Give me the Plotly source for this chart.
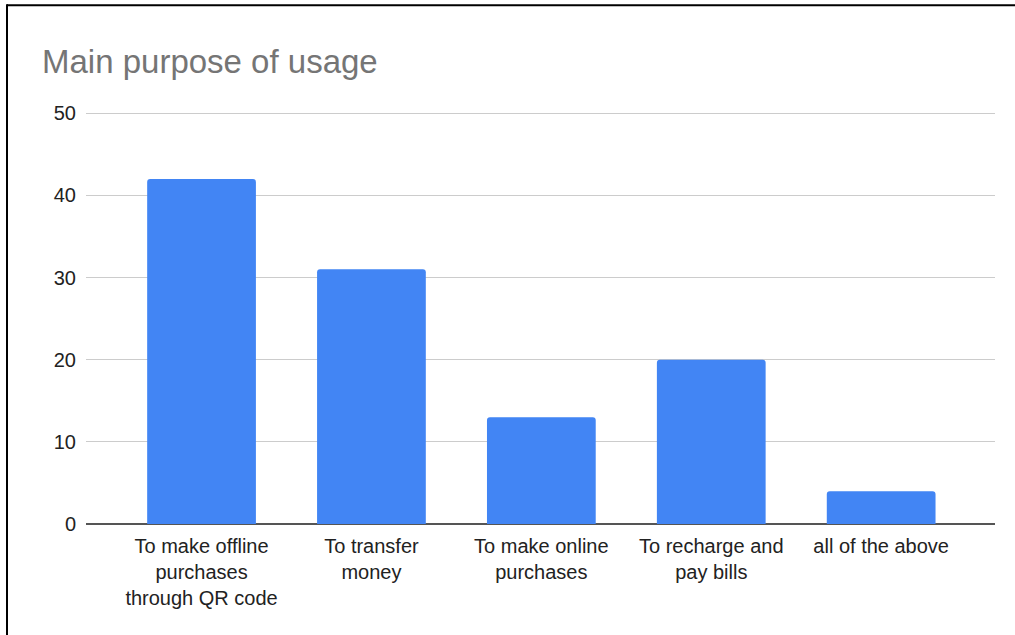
import plotly.graph_objects as go

# Survey responses: main purpose of usage
categories = [
    "To make offline<br>purchases<br>through QR code",
    "To transfer<br>money",
    "To make online<br>purchases",
    "To recharge and<br>pay bills",
    "all of the above",
]
counts = [42, 31, 13, 20, 4]
y_ticks = [0, 10, 20, 30, 40, 50]

W, H = 1015, 635
L, R, T, B = 86, 20, 113, 111
pw, ph = W - L - R, H - T - B


def px_x(x):
    return (x - L) / pw


def px_y(y):
    return (H - B - y) / ph


fig = go.Figure(
    go.Bar(
        x=categories,
        y=counts,
        width=0.64,
        marker=dict(color="#4285F4", cornerradius=3, line=dict(width=0)),
        hoverinfo="x+y",
    )
)

font_family = "Arial, Liberation Sans, sans-serif"

fig.update_layout(
    width=W,
    height=H,
    margin=dict(l=L, r=R, t=T - 1, b=B),
    paper_bgcolor="white",
    plot_bgcolor="white",
    showlegend=False,
    font=dict(family=font_family, color="#222222", size=20),
    title=dict(
        text="Main purpose of usage",
        font=dict(family=font_family, size=33, color="#757575"),
        x=42 / W,
        xanchor="left",
        xref="container",
        y=1 - 61 / H,
        yanchor="middle",
        yref="container",
    ),
    xaxis=dict(
        type="category",
        range=[-0.68, 4.67],
        showgrid=False,
        showline=False,
        ticks="",
        ticklabelstandoff=8,
        tickfont=dict(size=20, color="#222222"),
        zeroline=False,
    ),
    yaxis=dict(
        range=[0, 50.15],
        tickvals=y_ticks,
        showgrid=True,
        gridcolor="#cccccc",
        gridwidth=1,
        zeroline=True,
        zerolinecolor="#555555",
        zerolinewidth=2,
        showline=False,
        ticks="",
        ticklabelstandoff=9,
        tickfont=dict(size=20, color="#222222"),
    ),
    shapes=[
        # frame along the top and left edge
        dict(type="line", xref="paper", yref="paper",
             x0=px_x(7), x1=px_x(W + 5), y0=px_y(6.5), y1=px_y(6.5),
             line=dict(color="#000000", width=2)),
        dict(type="line", xref="paper", yref="paper",
             x0=px_x(7), x1=px_x(7), y0=px_y(5.5), y1=px_y(H + 5),
             line=dict(color="#000000", width=2)),
    ],
)

fig.write_html("out.html")
